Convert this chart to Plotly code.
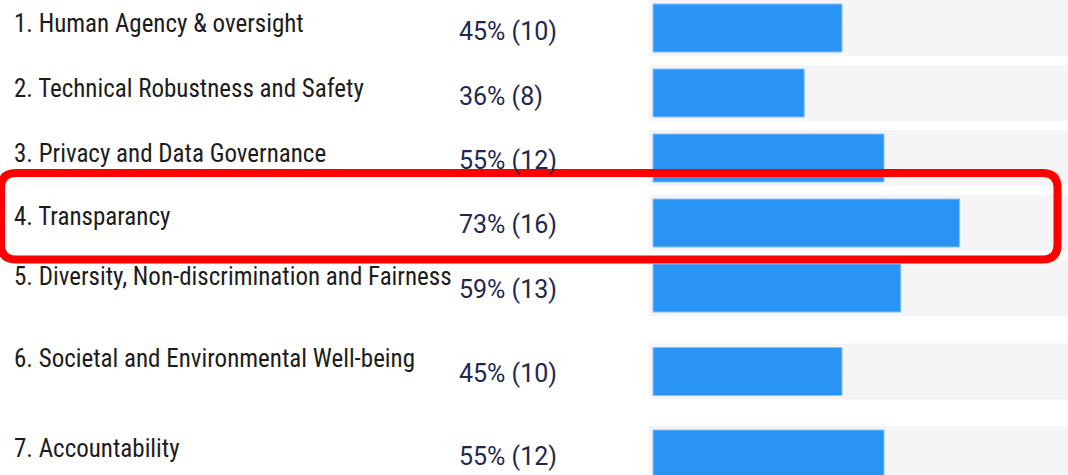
import plotly.graph_objects as go

# ---- data ----
categories = [
    "1. Human Agency & oversight",
    "2. Technical Robustness and Safety",
    "3. Privacy and Data Governance",
    "4. Transparancy",
    "5. Diversity, Non-discrimination and Fairness",
    "6. Societal and Environmental Well-being",
    "7. Accountability",
]
percents = [45, 36, 55, 73, 59, 45, 55]
counts = [10, 8, 12, 16, 13, 10, 12]
value_labels = [f"{p}% ({c})" for p, c in zip(percents, counts)]

# ---- layout (pixel geometry of the screenshot) ----
W, H = 1068, 475
row_center = [28, 93, 158, 223, 288, 371.5, 454]     # y of each row's bar, px
label_dy = [-5, -5, -5, -7, -12, -13, -6]            # category text offset vs bar
value_dy = [3, 3, 2, 1, 1, 2, 2]                     # value text offset vs bar
bar_px = 4.2                                         # px per percent
bar_x0 = 653                                         # px where 0% sits
label_x = 12
value_x = 457

BLUE = "#2a94f4"
TRACK = "#f5f4f7"

fig = go.Figure()
fig.add_trace(go.Bar(
    y=row_center, x=[100 + 1] * len(categories), base=-1, orientation="h",
    width=56, marker=dict(color=TRACK, line=dict(width=0)), hoverinfo="skip",
))
fig.add_trace(go.Bar(
    y=row_center, x=percents, orientation="h", width=48,
    marker=dict(color=BLUE, line=dict(width=1, color="#86c1f8")),
    hoverinfo="skip",
))

for cat, lab, yc, dl, dv in zip(categories, value_labels, row_center, label_dy, value_dy):
    fig.add_annotation(text=cat, x=label_x / W, y=yc + dl, xref="paper", yref="y",
                       xanchor="left", yanchor="middle", showarrow=False,
                       font=dict(family="Roboto Condensed, Roboto", size=25, color="#1c1c1c"))
    fig.add_annotation(text=lab, x=value_x / W, y=yc + dv, xref="paper", yref="y",
                       xanchor="left", yanchor="middle", showarrow=False,
                       font=dict(family="Roboto", size=25, color="#1f2850"))

# red rounded highlight box around row 4
x0, x1 = 1 / W, 1057.5 / W
y0, y1 = 173, 259.5
r = 15
rx = r / W
path = (f"M {x0 + rx},{y0} L {x1 - rx},{y0} Q {x1},{y0} {x1},{y0 + r} "
        f"L {x1},{y1 - r} Q {x1},{y1} {x1 - rx},{y1} "
        f"L {x0 + rx},{y1} Q {x0},{y1} {x0},{y1 - r} "
        f"L {x0},{y0 + r} Q {x0},{y0} {x0 + rx},{y0} Z")
fig.add_shape(type="path", path=path, xref="paper", yref="y",
              line=dict(color="#ff0000", width=8), fillcolor="rgba(0,0,0,0)")

fig.update_layout(
    width=W, height=H, margin=dict(l=0, r=0, t=0, b=0),
    paper_bgcolor="white", plot_bgcolor="white",
    barmode="overlay", showlegend=False,
    xaxis=dict(range=[-bar_x0 / bar_px, (W - bar_x0) / bar_px], domain=[0, 1],
               visible=False, fixedrange=True),
    yaxis=dict(range=[H, 0], domain=[0, 1], visible=False, fixedrange=True),
)
fig.write_html("out.html")
